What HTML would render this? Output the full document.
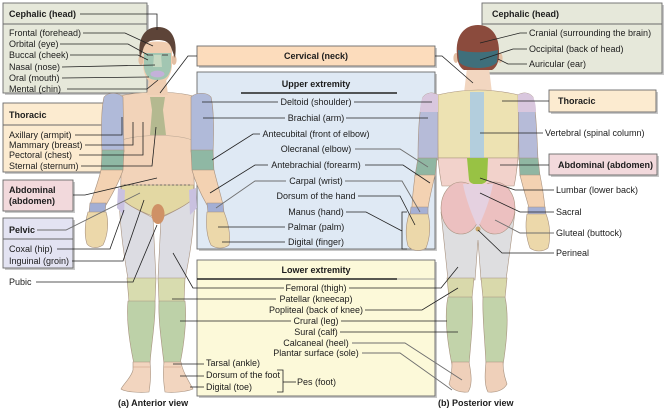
<!DOCTYPE html>
<html><head><meta charset="utf-8"><style>
html,body{margin:0;padding:0;background:#fff;}
svg{display:block;}
.t{font-family:"Liberation Sans",Arial,sans-serif;font-size:9px;fill:#1c1c1c;}
.b{font-weight:bold;}
.l{stroke:#222;stroke-width:0.8;fill:none;}
.g{stroke:#6f6f6f;stroke-width:0.9;fill:none;}
.bx{stroke:#6a6a6a;stroke-width:0.9;}
.sh{fill:#9a9a9a;opacity:0.55;}
.o{stroke:#a8927f;stroke-width:0.6;}
</style></head><body>
<svg width="668" height="409" viewBox="0 0 668 409" xmlns="http://www.w3.org/2000/svg">
<rect width="668" height="409" fill="#fff"/>

<!-- ===== BOXES ===== -->
<rect class="sh" x="5" y="5" width="144" height="90"/>
<rect class="bx" x="3" y="3" width="144" height="90" fill="#e6e8da"/>
<line x1="3" y1="24" x2="147" y2="24" stroke="#6a6a6a" stroke-width="0.9"/>
<rect class="sh" x="5" y="105" width="144" height="69"/>
<rect class="bx" x="3" y="103" width="144" height="69" fill="#fcebd0"/>
<line x1="3" y1="125" x2="147" y2="125" stroke="#6a6a6a" stroke-width="0.9"/>
<rect class="sh" x="5" y="182" width="70" height="31"/>
<rect class="bx" x="3" y="180" width="70" height="31" fill="#f2d9dc"/>
<rect class="sh" x="5" y="220" width="70" height="50"/>
<rect class="bx" x="3" y="218" width="70" height="50" fill="#e3e3f2"/>
<line x1="3" y1="239" x2="73" y2="239" stroke="#6a6a6a" stroke-width="0.9"/>
<rect class="sh" x="199" y="48" width="238" height="20"/>
<rect class="bx" x="197" y="46" width="238" height="20" fill="#fcdcbc"/>
<rect class="sh" x="199" y="74" width="238" height="177"/>
<rect class="bx" x="197" y="72" width="238" height="177" fill="#dfe9f4"/>
<line x1="241" y1="93" x2="397" y2="93" stroke="#222" stroke-width="1.6"/>
<rect class="sh" x="199" y="262" width="238" height="136"/>
<rect class="bx" x="197" y="260" width="238" height="136" fill="#fcf9d9"/>
<line x1="197" y1="279" x2="397" y2="279" stroke="#222" stroke-width="1.6"/>
<line x1="397" y1="279" x2="435" y2="279" stroke="#888" stroke-width="0.8"/>
<rect class="sh" x="484" y="5" width="180" height="70"/>
<rect class="bx" x="482" y="3" width="180" height="70" fill="#e6e8da"/>
<line x1="482" y1="24" x2="662" y2="24" stroke="#6a6a6a" stroke-width="0.9"/>
<rect class="sh" x="551" y="92" width="107" height="22"/>
<rect class="bx" x="549" y="90" width="107" height="22" fill="#fcebd0"/>
<rect class="sh" x="551" y="156" width="108" height="21"/>
<rect class="bx" x="549" y="154" width="108" height="21" fill="#f2d9dc"/>

<!-- ===== ANTERIOR FIGURE ===== -->
<path class="o" d="M119,196 C125,205 145,213 153,218 L156,279 L128,279 C124,255 120,230 119,196 Z" fill="#dcdce2"/>
<path class="o" d="M195,196 C189,205 170,213 161,218 L158,279 L185,279 C190,255 194,230 195,196 Z" fill="#dcdce2"/>
<path class="o" d="M127,278 L156,278 L155,302 L129,302 Z" fill="#d8dcaf"/>
<path class="o" d="M158,278 L185,278 L184,302 L159,302 Z" fill="#d8dcaf"/>
<path class="o" d="M128,301 C126,320 130,345 134,364 L150,364 C151,345 156,320 155,301 Z" fill="#bdd1a8"/>
<path class="o" d="M159,301 C158,320 162,345 164,364 L180,364 C184,345 187,320 185,301 Z" fill="#bdd1a8"/>
<path class="o" d="M133,362 L150,362 C151,372 151,380 149,392 C140,393 125,392 121,389 C124,383 131,378 133,370 Z" fill="#f2d5bf"/>
<path class="o" d="M164,362 L181,362 C182,370 188,380 193,389 C186,392 172,393 165,392 C163,380 163,372 164,362 Z" fill="#f2d5bf"/>
<path d="M133,367 L150,367 M164,367 L181,367" stroke="#c89a80" stroke-width="0.6"/>
<path class="o" d="M120,96 C140,91 175,91 193,96 L193,150 C193,170 195,185 194,192 L121,192 C120,185 122,170 121,150 Z" fill="#f2d3b9"/>
<path d="M122,140 C140,134 176,134 192,140" stroke="#b9a592" stroke-width="0.6" fill="none"/>
<path d="M150,97 L165,97 L163,110 L166,135 L150,135 L152,110 Z" fill="#b4b990"/>
<path class="o" d="M121,185 L194,185 L192,200 C182,208 170,213 163,216 L152,216 C145,213 132,208 123,200 Z" fill="#e3d8a3"/>
<line x1="124" y1="185" x2="192" y2="185" stroke="#555" stroke-width="0.7" stroke-dasharray="2,2"/>
<path d="M118,188 L125,190 L124,215 L117,208 Z" fill="#c9c1e0"/>
<path d="M196,188 L189,190 L190,215 L197,208 Z" fill="#c9c1e0"/>
<ellipse cx="158" cy="214" rx="6.5" ry="10" fill="#cf9166"/>
<path d="M149,78 L166,78 L168,95 L147,95 Z" fill="#efcfb4"/>
<ellipse cx="141" cy="60" rx="2.6" ry="5" fill="#e3bfa3"/>
<ellipse cx="174" cy="60" rx="2.6" ry="5" fill="#e3bfa3"/>
<path d="M143,46 C143,40 172,40 172,46 L172,66 C171,76 165,85 157,86 C149,85 144,76 143,66 Z" fill="#f0cdb0"/>
<path d="M144,53 L171,53 L171,68 C169,77 165,80 157,80 C150,80 146,77 144,68 Z" fill="#a2c6b2"/>
<path d="M154,55 L161,55 L162,67 L153,67 Z" fill="#c7d9c2"/>
<ellipse cx="157.5" cy="74" rx="7" ry="3.4" fill="#c3b1d9"/>
<path d="M147,55 L153,55 M162,55 L168,55" stroke="#444" stroke-width="0.9"/>
<path d="M140,58 C137,38 145,27 158,27 C171,27 178,38 175,58 L172,50 C170,42 165,40 158,40 C150,40 145,42 143,50 Z" fill="#5d4438"/>
<path class="o" d="M104,97 C108,92 118,92 123,97 L124,152 L102,152 C101,130 101,110 104,97 Z" fill="#b0bad9"/>
<path class="o" d="M102,150 L124,150 L123,170 L101,172 Z" fill="#8fb8a4"/>
<path class="o" d="M101,170 L123,170 C118,185 110,198 106,205 L90,205 C93,195 98,183 101,170 Z" fill="#f3d2b2"/>
<path class="o" d="M90,203 L106,203 L105,213 L89,213 Z" fill="#a3aed4"/>
<path class="o" d="M88,212 L106,212 C109,222 108,235 103,245 C97,249 90,248 87,244 C84,235 85,222 88,212 Z" fill="#ecd8aa"/>
<path class="o" d="M191,97 C196,92 207,92 211,97 C214,110 214,130 213,152 L191,152 Z" fill="#b0bad9"/>
<path class="o" d="M191,150 L213,150 L214,172 L192,170 Z" fill="#8fb8a4"/>
<path class="o" d="M192,170 L214,170 C217,183 221,195 223,205 L207,205 C203,198 196,185 192,170 Z" fill="#f3d2b2"/>
<path class="o" d="M207,203 L223,203 L224,213 L208,213 Z" fill="#a3aed4"/>
<path class="o" d="M207,212 L224,212 C228,222 231,235 229,245 C224,249 216,249 211,245 C206,235 206,222 207,212 Z" fill="#ecd8aa"/>

<!-- ===== POSTERIOR FIGURE ===== -->
<path class="o" d="M441,212 L515,212 L506,280 L481,280 L478,240 L475,280 L448,280 Z" fill="#dedee0"/>
<path class="o" d="M447,278 L474,278 L472,298 L449,298 Z" fill="#d9d9ab"/>
<path class="o" d="M481,278 L507,278 L505,298 L483,298 Z" fill="#d9d9ab"/>
<path class="o" d="M448,297 C444,315 447,340 452,365 L469,365 C471,340 474,315 472,297 Z" fill="#c2d3aa"/>
<path class="o" d="M483,297 C482,315 485,340 486,365 L503,365 C507,340 509,315 505,297 Z" fill="#c2d3aa"/>
<path class="o" d="M452,362 L469,362 C471,372 473,385 468,392 C460,393 452,390 449,384 C451,378 452,372 452,362 Z" fill="#efd0ba"/>
<path class="o" d="M486,362 L503,362 C503,372 505,378 507,384 C504,390 496,393 488,392 C484,385 485,372 486,362 Z" fill="#efd0ba"/>
<path d="M467,68 L489,68 L492,93 L464,93 Z" fill="#f2d6c0"/>
<path class="o" d="M437,95 C450,92 465,90 478,90 C491,90 506,92 519,95 L518,158 L438,158 Z" fill="#ede2b2"/>
<rect x="470" y="92" width="14" height="66" fill="#b3cedd"/>
<path class="o" d="M438,158 L518,158 C517,168 516,178 514,186 L442,186 C440,178 439,168 438,158 Z" fill="#f2d2cb"/>
<path d="M467,158 L488,158 L487,180 C485,186 470,186 469,180 Z" fill="#98c244"/>
<ellipse class="o" cx="461" cy="208" rx="20" ry="26" fill="#ecc0c0"/>
<ellipse class="o" cx="495" cy="208" rx="20" ry="26" fill="#ecc0c0"/>
<path d="M463,184 L493,184 C490,200 484,215 478,228 C472,215 466,200 463,184 Z" fill="#e5d1e0"/>
<circle cx="478" cy="229" r="2.5" fill="#c9a86a"/>
<ellipse cx="456" cy="58" rx="2.6" ry="5" fill="#e3bfa3"/>
<ellipse cx="500" cy="58" rx="2.6" ry="5" fill="#e3bfa3"/>
<path d="M457,55 C455,35 465,25 478,25 C491,25 500,35 499,55 C499,62 496,68 492,70 L464,70 C460,68 457,62 457,55 Z" fill="#8b4b3d"/>
<path d="M458,50 C470,53 486,53 498,50 L497,62 C492,70 465,70 459,62 Z" fill="#3f6f7b"/>
<path class="o" d="M423,97 C427,92 433,92 438,95 L438,160 L418,160 C418,135 419,110 423,97 Z" fill="#b6bbd8"/>
<path d="M423,97 C427,92 433,92 438,95 L438,112 L420,112 C420,106 421,101 423,97 Z" fill="#d9c7de"/>
<path class="o" d="M418,158 L437,158 L435,176 L415,176 Z" fill="#90b6a2"/>
<path class="o" d="M415,175 L435,175 C432,188 429,200 428,208 L412,208 C412,198 414,185 415,175 Z" fill="#f3d2b2"/>
<path class="o" d="M411,207 L428,207 L428,215 L410,215 Z" fill="#a5b0d4"/>
<path class="o" d="M409,214 L428,214 C431,225 430,238 426,248 C420,252 412,251 408,246 C405,235 406,224 409,214 Z" fill="#ecd8aa"/>
<path class="o" d="M518,95 C523,92 529,92 533,97 C536,110 537,135 538,160 L519,160 Z" fill="#b6bbd8"/>
<path d="M518,95 C523,92 529,92 533,97 C535,101 536,106 536,112 L518,112 Z" fill="#d9c7de"/>
<path class="o" d="M519,158 L538,158 L540,176 L520,176 Z" fill="#90b6a2"/>
<path class="o" d="M520,175 L540,175 C542,185 544,198 545,208 L529,208 C527,200 523,188 520,175 Z" fill="#f3d2b2"/>
<path class="o" d="M528,207 L545,207 L546,215 L528,215 Z" fill="#a5b0d4"/>
<path class="o" d="M527,214 L546,214 C550,224 551,238 548,248 C543,252 535,252 530,248 C526,238 525,225 527,214 Z" fill="#ecd8aa"/>

<!-- ===== LEADER LINES ===== -->
<polyline class="l" points="80,14 157,14 157,30"/>
<polyline class="l" points="83,33 125,33 153,46"/>
<polyline class="l" points="60,44 128,44 148,55"/>
<polyline class="l" points="70,55 138,55 148,60"/>
<polyline class="l" points="62,67 155,65"/>
<polyline class="l" points="62,78 149,77"/>
<polyline class="l" points="67,89 147,89 158,80"/>
<polyline class="l" points="75,135 122,135 122,117"/>
<polyline class="l" points="85,145 133,145 133,122"/>
<polyline class="l" points="79,155 143,155 143,122"/>
<polyline class="l" points="81,166 152,166 156,127"/>
<polyline class="l" points="73,195 85,195 157,178"/>
<polyline class="g" points="37,230 66,230 140,193"/>
<polyline class="l" points="57,249 110,249 124,210"/>
<polyline class="l" points="72,261 123,261 144,200"/>
<polyline class="l" points="36,282 133,282 157,225"/>
<polyline class="l" points="197,56 188,56 160,93"/>
<polyline class="l" points="202,102 278,102"/>
<polyline class="l" points="354,102 432,102"/>
<polyline class="l" points="203,118 285,118"/>
<polyline class="l" points="346,118 428,118"/>
<polyline class="l" points="260,134 253,134 212,160"/>
<polyline class="g" points="355,149 400,149 428,167"/>
<polyline class="l" points="268,165 255,165 210,193"/>
<polyline class="l" points="365,165 403,165 430,183"/>
<polyline class="g" points="286,181 255,181 216,208"/>
<polyline class="g" points="345,181 402,181 420,212"/>
<polyline class="l" points="358,196 400,196 415,225"/>
<polyline class="l" points="346,212 366,212 402,231"/>
<polyline class="l" points="407,212 402,212 402,249 407,249"/>
<polyline class="l" points="285,227 218,227"/>
<polyline class="l" points="285,242 222,242"/>
<polyline class="l" points="173,253 193,288 284,288"/>
<polyline class="l" points="349,288 441,288 458,267"/>
<polyline class="l" points="172,299 276,299"/>
<polyline class="l" points="365,310 422,310 458,288"/>
<polyline class="l" points="180,321 291,321"/>
<polyline class="l" points="341,321 447,321"/>
<polyline class="l" points="340,332 458,332"/>
<polyline class="g" points="352,343 405,343 462,380"/>
<polyline class="g" points="362,353 400,353 452,390"/>
<polyline class="l" points="173,364 204,364"/>
<polyline class="l" points="180,376 204,376"/>
<polyline class="l" points="190,387 204,387"/>
<polyline class="l" points="277,370 283,370 283,392 277,392"/>
<polyline class="l" points="283,382 296,382"/>
<polyline class="l" points="435,56 442,56 473,83"/>
<polyline class="l" points="527,33 520,33 480,43"/>
<polyline class="l" points="527,49 513,49 480,60"/>
<polyline class="l" points="527,64 508,64 498,59"/>
<polyline class="l" points="549,101 502,101"/>
<polyline class="l" points="543,133 480,133"/>
<polyline class="l" points="549,165 500,165"/>
<polyline class="l" points="554,190 515,190 480,178"/>
<polyline class="l" points="554,212 520,212 480,193"/>
<polyline class="g" points="554,233 520,233 495,220"/>
<polyline class="l" points="554,253 502,253 478,230"/>

<!-- ===== TEXT ===== -->
<text class="t b" x="9" y="17">Cephalic (head)</text>
<text class="t" x="9" y="36">Frontal (forehead)</text>
<text class="t" x="9" y="47">Orbital (eye)</text>
<text class="t" x="9" y="58">Buccal (cheek)</text>
<text class="t" x="9" y="70">Nasal (nose)</text>
<text class="t" x="9" y="81">Oral (mouth)</text>
<text class="t" x="9" y="92">Mental (chin)</text>
<text class="t b" x="9" y="118">Thoracic</text>
<text class="t" x="9" y="138">Axillary (armpit)</text>
<text class="t" x="9" y="148">Mammary (breast)</text>
<text class="t" x="9" y="158">Pectoral (chest)</text>
<text class="t" x="9" y="169">Sternal (sternum)</text>
<text class="t b" x="9" y="193">Abdominal</text>
<text class="t b" x="9" y="204">(abdomen)</text>
<text class="t b" x="9" y="233">Pelvic</text>
<text class="t" x="9" y="252">Coxal (hip)</text>
<text class="t" x="9" y="264">Inguinal (groin)</text>
<text class="t" x="9" y="285">Pubic</text>

<text class="t b" x="316" y="59" text-anchor="middle">Cervical (neck)</text>
<text class="t b" x="316" y="87" text-anchor="middle">Upper extremity</text>
<text class="t" x="316" y="105" text-anchor="middle">Deltoid (shoulder)</text>
<text class="t" x="316" y="121" text-anchor="middle">Brachial (arm)</text>
<text class="t" x="316" y="137" text-anchor="middle">Antecubital (front of elbow)</text>
<text class="t" x="316" y="152" text-anchor="middle">Olecranal (elbow)</text>
<text class="t" x="316" y="168" text-anchor="middle">Antebrachial (forearm)</text>
<text class="t" x="316" y="184" text-anchor="middle">Carpal (wrist)</text>
<text class="t" x="316" y="199" text-anchor="middle">Dorsum of the hand</text>
<text class="t" x="316" y="215" text-anchor="middle">Manus (hand)</text>
<text class="t" x="316" y="230" text-anchor="middle">Palmar (palm)</text>
<text class="t" x="316" y="245" text-anchor="middle">Digital (finger)</text>

<text class="t b" x="316" y="273" text-anchor="middle">Lower extremity</text>
<text class="t" x="316" y="291" text-anchor="middle">Femoral (thigh)</text>
<text class="t" x="316" y="302" text-anchor="middle">Patellar (kneecap)</text>
<text class="t" x="316" y="313" text-anchor="middle">Popliteal (back of knee)</text>
<text class="t" x="316" y="324" text-anchor="middle">Crural (leg)</text>
<text class="t" x="316" y="335" text-anchor="middle">Sural (calf)</text>
<text class="t" x="316" y="346" text-anchor="middle">Calcaneal (heel)</text>
<text class="t" x="316" y="356" text-anchor="middle">Plantar surface (sole)</text>
<text class="t" x="206" y="366">Tarsal (ankle)</text>
<text class="t" x="206" y="378">Dorsum of the foot</text>
<text class="t" x="206" y="390">Digital (toe)</text>
<text class="t" x="297" y="385">Pes (foot)</text>

<text class="t b" x="492" y="17">Cephalic (head)</text>
<text class="t" x="529" y="36">Cranial (surrounding the brain)</text>
<text class="t" x="529" y="52">Occipital (back of head)</text>
<text class="t" x="529" y="67">Auricular (ear)</text>
<text class="t b" x="558" y="104">Thoracic</text>
<text class="t" x="545" y="136">Vertebral (spinal column)</text>
<text class="t b" x="558" y="168">Abdominal (abdomen)</text>
<text class="t" x="556" y="193">Lumbar (lower back)</text>
<text class="t" x="556" y="215">Sacral</text>
<text class="t" x="556" y="236">Gluteal (buttock)</text>
<text class="t" x="556" y="256">Perineal</text>

<text class="t b" x="118" y="406">(a) Anterior view</text>
<text class="t b" x="438" y="406">(b) Posterior view</text>
</svg>
</body></html>
